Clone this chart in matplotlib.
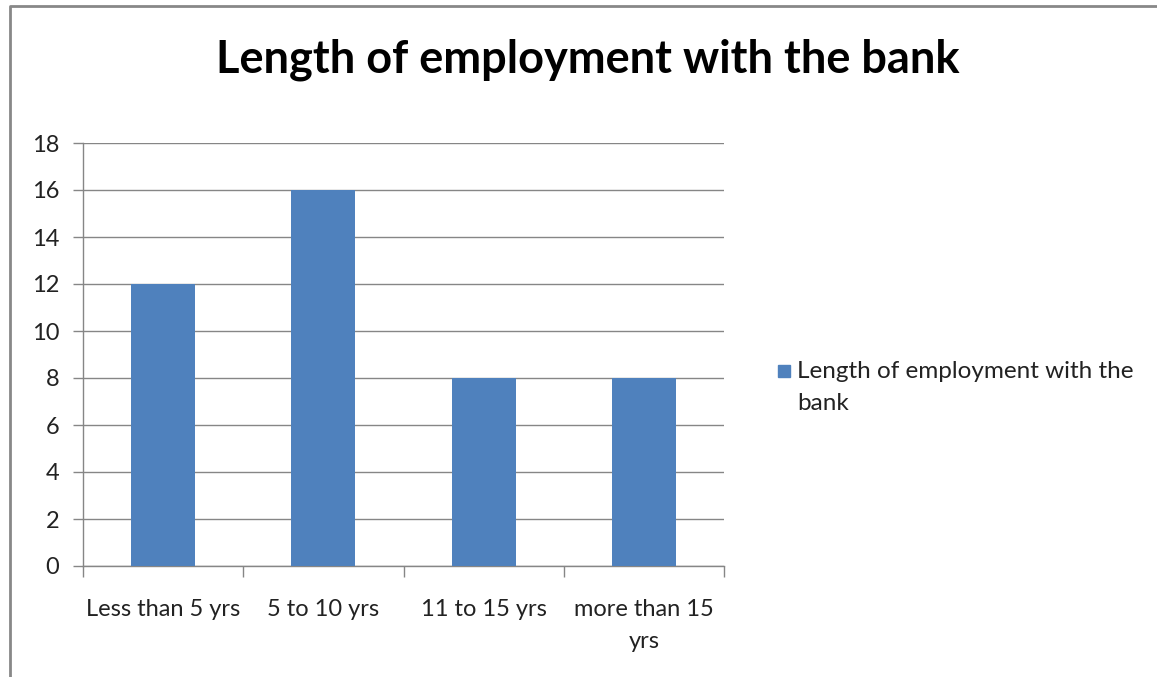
import matplotlib.pyplot as plt
from matplotlib.patches import Rectangle

# data
categories = ["Less than 5 yrs", "5 to 10 yrs", "11 to 15 yrs", "more than 15\nyrs"]
values = [12, 16, 8, 8]
series_name = "Length of employment with the\nbank"
title = "Length of employment with the bank"

plt.rcParams['font.family'] = ['Lato', 'DejaVu Sans']
bar_color = '#4F81BD'
grid_color = '#868686'

fig = plt.figure(figsize=(11.57, 6.77), dpi=100)
ax = fig.add_axes([83 / 1157, 1 - 566 / 677, 641 / 1157, 423 / 677])

x = list(range(len(categories)))
ax.bar(x, values, width=0.4, color=bar_color, zorder=3)

ax.set_xlim(-0.5, len(categories) - 0.5)
ax.set_ylim(0, 18)
ax.set_yticks(range(0, 19, 2))
ax.yaxis.grid(True, color=grid_color, linewidth=1)
ax.set_axisbelow(True)

# category labels centered, tick marks at boundaries
ax.set_xticks(x)
ax.set_xticklabels(categories, fontsize=17, color='#222222', linespacing=1.65)
ax.tick_params(axis='x', length=0, pad=24)
ax.set_xticks([i - 0.5 for i in range(len(categories) + 1)], minor=True)
ax.tick_params(axis='x', which='minor', length=8, color=grid_color, width=1)
ax.tick_params(axis='y', length=7, color=grid_color, width=1, labelsize=17,
               labelcolor='#222222', pad=10)

for s in ['top', 'right']:
    ax.spines[s].set_visible(False)
for s in ['left', 'bottom']:
    ax.spines[s].set_color(grid_color)
    ax.spines[s].set_linewidth(1)

fig.text(588 / 1157, 1 - 60 / 677, title, ha='center', va='center',
         fontsize=32.5, fontweight='bold', color='black')

# legend
fig.patches.append(Rectangle((778 / 1157, 1 - 377 / 677), 12 / 1157, 12 / 677,
                             transform=fig.transFigure, color=bar_color))
fig.text(797 / 1157, 1 - 361 / 677, series_name, ha='left', va='top',
         fontsize=17.5, color='#222222', linespacing=1.65,
         transform=fig.transFigure)

# outer border
fig.add_artist(plt.Line2D([10 / 1157, 10 / 1157, 1], [0, 1 - 6 / 677, 1 - 6 / 677],
                          transform=fig.transFigure, color='#888888', linewidth=2))

fig.savefig('out.png', dpi=100)
